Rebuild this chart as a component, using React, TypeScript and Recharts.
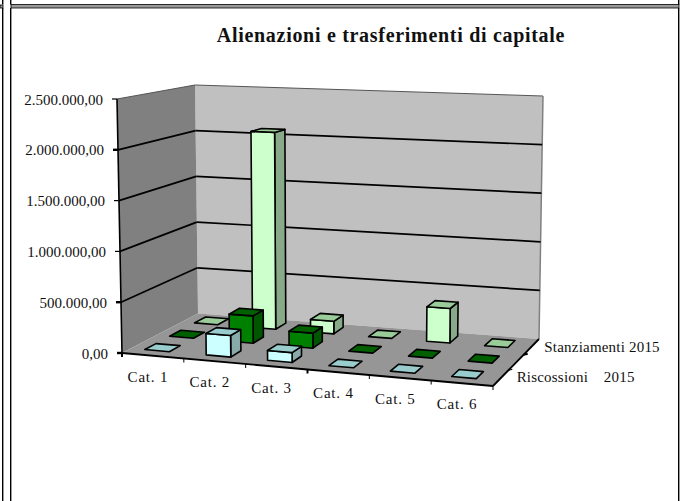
import React from 'react';
import { BarChart, Bar, XAxis, YAxis } from 'recharts';

const categories = ['Cat. 1', 'Cat. 2', 'Cat. 3', 'Cat. 4', 'Cat. 5', 'Cat. 6'];
const riscossioni = [0, 210000, 95000, 0, 0, 0];
const impegni = [0, 275000, 150000, 0, 0, 0];
const stanziamenti = [0, 2060000, 130000, 0, 350000, 0];
const yTicks = [0, 500000, 1000000, 1500000, 2000000, 2500000];
const TITLE = 'Alienazioni e trasferimenti di capitale';

const data = categories.map((name, i) => ({
  name,
  riscossioni: riscossioni[i],
  impegni: impegni[i],
  stanziamenti: stanziamenti[i]
}));

// painted back to front
const SERIES = [
  { key: 'stanziamenti', slot: 2, front: '#CCFFCC', top: '#99CC99', side: '#88AA88' },
  { key: 'impegni', slot: 1, front: '#008000', top: '#006000', side: '#005500' },
  { key: 'riscossioni', slot: 0, front: '#CCFFFF', top: '#99CCCC', side: '#88AAAA' }
];
const DEPTH_LABELS = [
  { slot: 2, text: 'Stanziamenti 2015' },
  { slot: 0, text: 'Riscossioni    2015' }
];

const W = 684;
const H = 501;
const PLOT = { left: 122, right: 493, top: 99, bottom: 353 };
const plotW = PLOT.right - PLOT.left;
const plotH = PLOT.bottom - PLOT.top;
const FONT = '"Liberation Serif", serif';
const BAR_W = plotW / 6 * 0.4;

// corners of the 3D box, [u][v][w]
const C = {
  fb0: [122, 353], ft0: [117, 99],
  bb0: [198, 313.5], bt0: [195, 85],
  fb1: [493, 386], ft1: [497, 115],
  bb1: [539, 339], bt1: [543, 96]
};
const lerp = (a: number, b: number, t: number) => a + (b - a) * t;

function project(u: number, v: number, w: number) {
  const at = (i: number) => {
    const f0 = lerp(C.fb0[i], C.ft0[i], v);
    const b0 = lerp(C.bb0[i], C.bt0[i], v);
    const f1 = lerp(C.fb1[i], C.ft1[i], v);
    const b1 = lerp(C.bb1[i], C.bt1[i], v);
    return lerp(lerp(f0, f1, u), lerp(b0, b1, u), w);
  };
  return [at(0), at(1)];
}

const path = (pts: number[][]) => 'M' + pts.map((p) => p[0].toFixed(1) + ' ' + p[1].toFixed(1)).join('L') + 'Z';
const formatValue = (v: number) => v.toLocaleString('it-IT', { minimumFractionDigits: 2, maximumFractionDigits: 2 });

function Box3D(props: any) {
  const { x, y, width, height, slot, colors } = props;
  const u0 = (x - PLOT.left) / plotW;
  const u1 = (x + width - PLOT.left) / plotW;
  const v = (PLOT.bottom - y) / plotH;
  const w0 = (slot + 0.5) / 3 - 0.075;
  const w1 = (slot + 0.5) / 3 + 0.075;
  const line = { stroke: '#000', strokeWidth: 1.6, strokeLinejoin: 'round' as const };
  return (
    <g transform="translate(-3 -1.5)">
      {height > 0 && (
        <path
          d={path([project(u1, 0, w0), project(u1, 0, w1), project(u1, v, w1), project(u1, v, w0)])}
          fill={colors.side}
          {...line}
        />
      )}
      {height > 0 && (
        <path
          d={path([project(u0, 0, w0), project(u1, 0, w0), project(u1, v, w0), project(u0, v, w0)])}
          fill={colors.front}
          {...line}
        />
      )}
      <path
        d={path([project(u0, v, w0), project(u1, v, w0), project(u1, v, w1), project(u0, v, w1)])}
        fill={colors.top}
        {...line}
      />
    </g>
  );
}

function Frame() {
  return (
    <g>
      <rect x={0} y={0} width={W} height={H} fill="#fff" />
      <rect x={2} y={0} width={1.4} height={4.5} fill="#000" />
      <rect x={2} y={8} width={1.4} height={H} fill="#000" />
      <rect x={10} y={0} width={1.4} height={4.5} fill="#000" />
      <rect x={10} y={8} width={1.4} height={H} fill="#000" />
      <rect x={678} y={0} width={1.4} height={4.5} fill="#000" />
      <rect x={678} y={8} width={1.4} height={H} fill="#000" />
      <rect x={11} y={4.5} width={668} height={3.5} fill="#999" stroke="#000" strokeWidth={0.8} />
      <rect x={0} y={5} width={3} height={3} fill="#999" stroke="#000" strokeWidth={0.8} />
    </g>
  );
}

function Walls() {
  const backWall = [project(0, 0, 1), project(1, 0, 1), project(1, 1, 1), project(0, 1, 1)];
  const sideWall = [project(0, 0, 0), project(0, 0, 1), project(0, 1, 1), project(0, 1, 0)];
  const floor = [project(0, 0, 0), project(1, 0, 0), project(1, 0, 1), project(0, 0, 1)];
  const seg = (a: number[], b: number[], width: number, color = '#000') => (
    <line x1={a[0]} y1={a[1]} x2={b[0]} y2={b[1]} stroke={color} strokeWidth={width} />
  );
  return (
    <g>
      <path d={path(backWall)} fill="#C0C0C0" />
      <path d={path(sideWall)} fill="#808080" />
      <path d={path(floor)} fill="#969696" />
      {seg(project(0, 1, 0), project(0, 1, 1), 1, '#555')}
      {seg(project(0, 1, 1), project(1, 1, 1), 1, '#555')}
      {seg(project(1, 1, 1), project(1, 0, 1), 1.5, '#808080')}
      {yTicks.filter((t) => t > 0).slice(0, 4).map((t) => {
        const v = t / yTicks[yTicks.length - 1];
        return (
          <g key={t}>
            {seg(project(0, v, 0), project(0, v, 1), 1.7)}
            {seg(project(0, v, 1), project(1, v, 1), 1.7)}
          </g>
        );
      })}
      {seg(project(0, 0, 0), project(0, 1, 0), 1.6)}
      {seg(project(0, 0, 0), project(1, 0, 0), 1.8)}
      {seg(project(1, 0, 0), project(1, 0, 1), 1.8)}
      {[0, 1, 2, 3, 4, 5, 6].map((i) => {
        const a = project(i / 6, 0, 0);
        return <React.Fragment key={i}>{seg(a, [a[0], a[1] + 4], i === 0 || i === 3 ? 2 : 1)}</React.Fragment>;
      })}
      {[1, 2].map((i) => {
        const a = project(1, 0, i / 3);
        return <React.Fragment key={i}>{seg(a, [a[0] + 4, a[1] - 1], i === 2 ? 2 : 1)}</React.Fragment>;
      })}
    </g>
  );
}

function Labels() {
  return (
    <g fontFamily={FONT} fill="#111">
      <text x={391} y={42} textAnchor="middle" fontSize={20} fontWeight="bold" letterSpacing={0.7}>
        {TITLE}
      </text>
      {DEPTH_LABELS.map((d) => {
        const a = project(1, 0, (d.slot + 0.5) / 3);
        return (
          <text
            key={d.slot}
            x={a[0] + (d.slot === 2 ? 13 : 16)}
            y={a[1] + (d.slot === 2 ? 5.5 : 4)}
            fontSize={15}
            letterSpacing={0.2}
            style={{ whiteSpace: 'pre' }}
          >
            {d.text}
          </text>
        );
      })}
    </g>
  );
}

function CategoryTick(props: any) {
  const { x, payload } = props;
  const a = project((x - PLOT.left) / plotW, 0, 0);
  return (
    <text
      x={a[0] - 5}
      y={a[1] + 26}
      textAnchor="middle"
      fontFamily={FONT}
      fontSize={15}
      letterSpacing={0.8}
      fill="#111"
    >
      {payload.value}
    </text>
  );
}

function ValueTick(props: any) {
  const { y, payload } = props;
  const a = project(0, (PLOT.bottom - y) / plotH, 0);
  const heavy = payload.value === 0 || payload.value === 500000 || payload.value === 2000000;
  return (
    <g>
      <line x1={a[0] - 5} y1={a[1]} x2={a[0]} y2={a[1]} stroke="#000" strokeWidth={heavy ? 2.4 : 1.2} />
      <text x={a[0] - 14} y={a[1] + 5.5} textAnchor="end" fontFamily={FONT} fontSize={15} fill="#111">
        {formatValue(payload.value)}
      </text>
    </g>
  );
}

export default function App() {
  return (
    <div style={{ position: 'absolute', left: 0, top: 0, width: W, height: H, overflow: 'hidden' }}>
      <BarChart
        width={W}
        height={H}
        data={data}
        barSize={BAR_W}
        barGap={-BAR_W}
        margin={{ left: PLOT.left - 1, right: W - PLOT.right, top: PLOT.top, bottom: H - PLOT.bottom - 1 }}
      >
        <Frame />
        <Walls />
        <Labels />
        <XAxis
          dataKey="name"
          height={1}
          interval={0}
          axisLine={false}
          tickLine={false}
          tick={CategoryTick}
        />
        <YAxis
          width={1}
          domain={[0, 2500000]}
          ticks={yTicks}
          interval={0}
          axisLine={false}
          tickLine={false}
          tick={ValueTick}
        />
        {SERIES.map((s) => (
          <Bar
            key={s.key}
            dataKey={s.key}
            isAnimationActive={false}
            shape={(p: any) => <Box3D {...p} slot={s.slot} colors={s} />}
          />
        ))}
      </BarChart>
    </div>
  );
}
